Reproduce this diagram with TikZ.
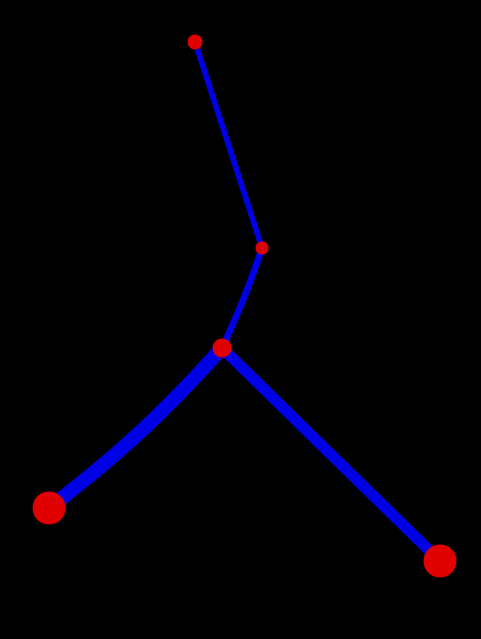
\documentclass[tikz,border=0pt]{standalone}
\begin{document}
\begin{tikzpicture}[x=1pt,y=1pt,
  joint/.style={circle,fill={rgb,255:red,225;green,0;blue,0},inner sep=0pt,minimum size=#1},
  limb/.style={draw={rgb,255:red,0;green,0;blue,230},line width=#1}]
\fill[black] (0,0) rectangle (481,639);
\useasboundingbox (0,0) rectangle (481,639);
\coordinate (a) at (195,597);
\coordinate (b) at (262,391);
\coordinate (c) at (222,291);
\coordinate (d) at (49,131);
\coordinate (e) at (440,78);
\draw[limb=5.5pt] (a) -- (b);
\draw[limb=6.5pt] (b) to[bend left=3] (c);
\draw[limb=14pt] (c) to[bend left=5] (d);
\draw[limb=11pt] (c) -- (e);
\node[joint=15pt] (na) at (a) {};
\node[joint=13pt] (nb) at (b) {};
\node[joint=19pt] (nc) at (c) {};
\node[joint=33pt] (nd) at (d) {};
\node[joint=33pt] (ne) at (e) {};
\end{tikzpicture}
\end{document}
